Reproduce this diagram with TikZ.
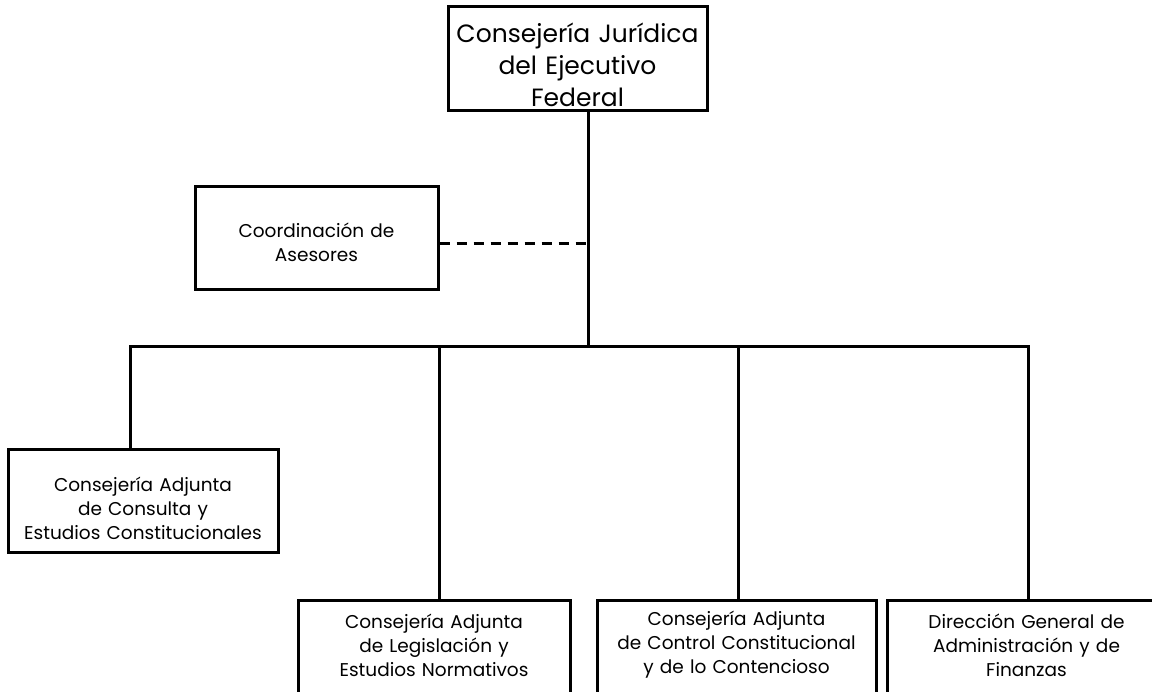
\documentclass[tikz,border=0pt]{standalone}
\usepackage{fontspec}
\setmainfont{Poppins}

\begin{document}
\begin{tikzpicture}[x=1pt,y=-1pt,line width=3pt,
  caja/.style={draw,inner sep=0pt,align=center,text width=262pt,font=\fontsize{18.5}{24}\selectfont},
  titular/.style={caja,text width=252pt,font=\fontsize{25}{32}\selectfont},
  subir/.style={execute at end node={\vspace*{#1}}},
  asesoria/.style={dash pattern=on 10pt off 7pt}]
\clip (0,0) rectangle (1152,692);
%%Titular
\node[titular,subir=-12pt,minimum width=259pt,minimum height=104pt] (cjef) at (577.5,59) {Consejería Jurídica\\del Ejecutivo\\Federal};
%%Asesores
\node[caja,subir=-8pt,text width=232pt,minimum width=243pt,minimum height=103pt] (asesores) at (316.5,238.5) {Coordinación de\\Asesores};
%%Unidades
\node[caja,subir=-14pt,minimum width=270pt,minimum height=102pt] (consulta) at (143,501) {Consejería Adjunta\\de Consulta y\\Estudios Constitucionales};
\node[caja,subir=10pt,minimum width=272pt,minimum height=100pt] (legis) at (434,650) {Consejería Adjunta\\de Legislación y\\Estudios Normativos};
\node[caja,subir=10pt,minimum width=279pt,minimum height=100pt] (control) at (736.5,650) {Consejería Adjunta\\de Control Constitucional\\y de lo Contencioso};
\node[caja,subir=10pt,minimum width=279pt,minimum height=100pt] (finanzas) at (1026.5,650) {Dirección General de\\Administración y de\\Finanzas};
%%Lineas
\coordinate (ase) at (588,244);
\coordinate (bar) at (588,347);
\coordinate (b1) at (130,347);
\coordinate (b2) at (439,347);
\coordinate (b3) at (738,347);
\coordinate (b4) at (1028,347);
\draw (cjef.south -| bar) -- (bar);
\draw[asesoria] (asesores.east |- ase) -- (ase);
\draw (b1 |- consulta.north) -- (b1) -- (b4) -- (b4 |- finanzas.north);
\draw (b2) -- (b2 |- legis.north);
\draw (b3) -- (b3 |- control.north);
\end{tikzpicture}
\end{document}
